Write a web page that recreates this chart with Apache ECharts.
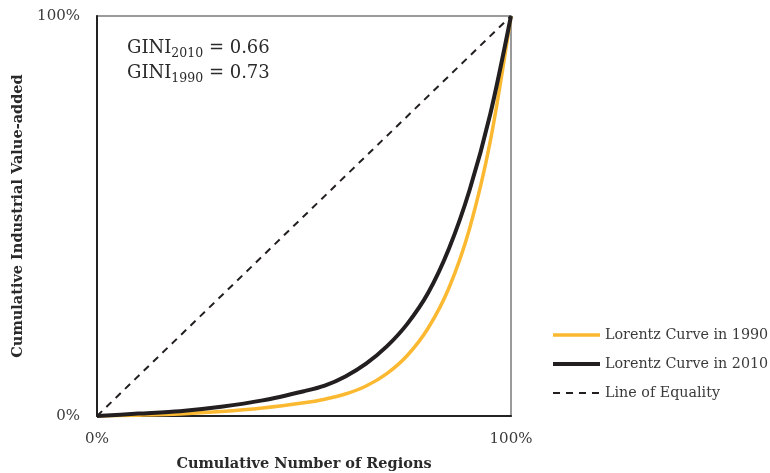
<!DOCTYPE html>
<html>
<head>
<meta charset="utf-8">
<script src="https://cdn.jsdelivr.net/npm/echarts@6/dist/echarts.min.js"></script>
<style>
  html, body { margin: 0; padding: 0; background: #fff; }
  #main { width: 770px; height: 473px; }
</style>
</head>
<body>
<div id="main"></div>
<script>
// Данные (в процентах)
let share_regions = [0, 10, 20, 30, 40, 50, 55, 60, 65, 70, 75, 80, 85, 90, 95, 100];
let curve_2010 = [0, 0.6, 1.2, 2.3, 3.9, 6.2, 7.6, 9.9, 13.1, 17.4, 23.1, 30.8, 41.8, 56.5, 75.5, 100];
let curve_1990 = [0, 0.2, 0.5, 1.1, 2, 3.3, 4.2, 5.5, 7.5, 10.6, 15.2, 22, 32, 46.9, 68.7, 100];

let equality_x = [0, 100];
let equality_y = [0, 100];

let gini_labels = ["2010", "1990"];
let gini_values = ["0.66", "0.73"];

let seriesNames = ["Lorentz Curve in 1990", "Lorentz Curve in 2010", "Line of Equality"];

let colors = {
  y1990: "#FBB931",
  y2010: "#231F20",
  equality: "#231F20",
  text: "#3a3a3a",
};

let font = "'DejaVu Serif', serif";

let toPairs = (xs, ys) => xs.map((x, i) => [x, ys[i]]);

let myChart = echarts.init(document.getElementById("main"));

let option = {
  animation: false,
  textStyle: { fontFamily: font },
  grid: {
    left: 97,
    top: 16,
    width: 414,
    height: 400,
    outerBoundsMode: "none",
    show: true,
    borderColor: "#7a7a7a",
    borderWidth: 1.5,
  },
  xAxis: {
    type: "value",
    min: 0,
    max: 100,
    interval: 100,
    name: "Cumulative Number of Regions",
    nameLocation: "middle",
    nameGap: 41,
    nameTextStyle: { fontFamily: font, fontWeight: "bold", fontSize: 14.5, color: "#2a2a2a" },
    axisLine: { show: true, lineStyle: { color: "#222", width: 2 } },
    axisTick: { show: false },
    splitLine: { show: false },
    axisLabel: {
      fontFamily: font,
      fontSize: 15,
      color: colors.text,
      margin: 16,
      formatter: (v) => v + "%",
    },
  },
  yAxis: {
    type: "value",
    min: 0,
    max: 100,
    interval: 100,
    name: "Cumulative Industrial Value-added",
    nameLocation: "middle",
    nameGap: 62,
    nameTextStyle: { fontFamily: font, fontWeight: "bold", fontSize: 14.5, color: "#2a2a2a" },
    axisLine: { show: true, lineStyle: { color: "#222", width: 2 } },
    axisTick: { show: false },
    splitLine: { show: false },
    axisLabel: {
      fontFamily: font,
      fontSize: 15,
      color: colors.text,
      margin: 17,
      verticalAlign: "middle",
      formatter: (v) => v + "%",
    },
  },
  legend: {
    orient: "vertical",
    left: 546,
    top: 323,
    itemWidth: 47,
    itemHeight: 14,
    itemGap: 15,
    itemStyle: { opacity: 0 },
    textStyle: { fontFamily: font, fontSize: 14.3, color: colors.text },
    data: [
      { name: seriesNames[0], lineStyle: { width: 3.5 } },
      { name: seriesNames[1], lineStyle: { width: 4 } },
      { name: seriesNames[2], lineStyle: { width: 2 } },
    ],
  },
  graphic: [
    {
      type: "text",
      left: 127,
      top: 39,
      style: {
        text: gini_labels.map((l, i) => "{b|GINI}{s|" + l + "}{b| = " + gini_values[i] + "}").join("\n"),
        rich: {
          b: { fontFamily: font, fontSize: 18, fill: "#2a2a2a", lineHeight: 25 },
          s: { fontFamily: font, fontSize: 12.5, fill: "#2a2a2a", lineHeight: 25, verticalAlign: "bottom", padding: [8, 0, 0, 0] },
        },
      },
    },
  ],
  series: [
    {
      name: seriesNames[0],
      type: "line",
      smooth: 0.3,
      symbol: "none",
      data: toPairs(share_regions, curve_1990),
      lineStyle: { color: colors.y1990, width: 3.5 },
      itemStyle: { color: colors.y1990 },
      z: 2,
    },
    {
      name: seriesNames[1],
      type: "line",
      smooth: 0.3,
      symbol: "none",
      data: toPairs(share_regions, curve_2010),
      lineStyle: { color: colors.y2010, width: 4 },
      itemStyle: { color: colors.y2010 },
      z: 3,
    },
    {
      name: seriesNames[2],
      type: "line",
      symbol: "none",
      data: toPairs(equality_x, equality_y),
      lineStyle: { color: colors.equality, width: 2, type: [7, 6] },
      itemStyle: { color: colors.equality },
      z: 1,
    },
  ],
};

myChart.setOption(option);
</script>
</body>
</html>
